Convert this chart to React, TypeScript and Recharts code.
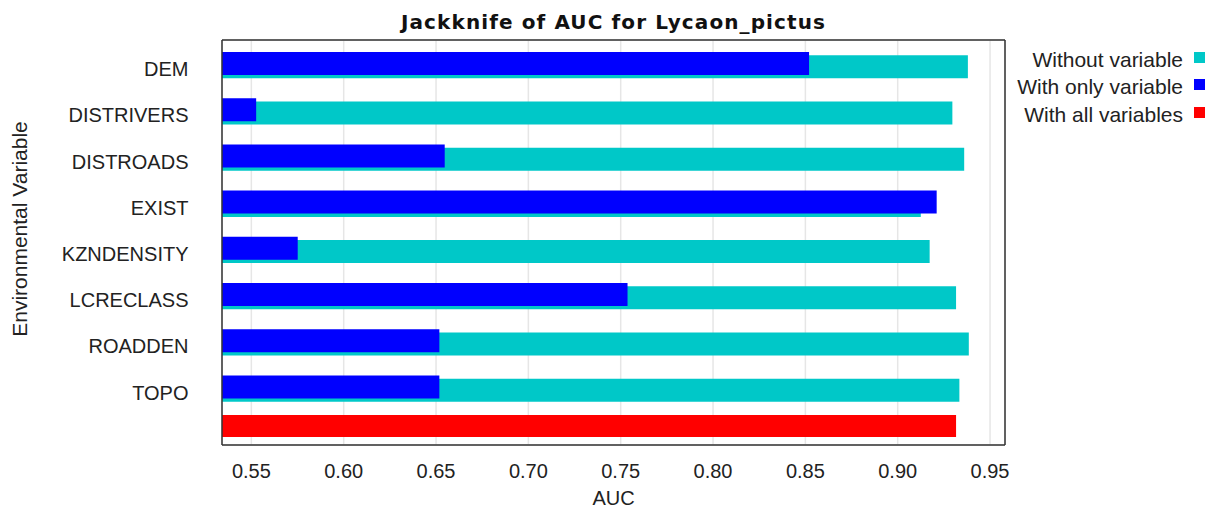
import React from 'react';
import { BarChart, Bar, XAxis, YAxis, CartesianGrid, Legend } from 'recharts';

const VARIABLES = ['DEM', 'DISTRIVERS', 'DISTROADS', 'EXIST', 'KZNDENSITY', 'LCRECLASS', 'ROADDEN', 'TOPO'];
const WITHOUT_VARIABLE = [0.938, 0.9296, 0.936, 0.9125, 0.9173, 0.9316, 0.9385, 0.9334];
const WITH_ONLY_VARIABLE = [0.852, 0.5526, 0.6547, 0.9211, 0.5751, 0.7537, 0.6518, 0.6518];
const WITH_ALL_VARIABLES = 0.9316;
const AUC_TICKS = [0.55, 0.6, 0.65, 0.7, 0.75, 0.8, 0.85, 0.9, 0.95];
const AUC_DOMAIN = [0.5341, 0.9581];

const COLORS = {
  without: '#00c8c8',
  withOnly: '#0000ff',
  all: '#ff0000',
};

const LEGEND = [
  { label: 'Without variable', color: COLORS.without },
  { label: 'With only variable', color: COLORS.withOnly },
  { label: 'With all variables', color: COLORS.all },
];

const FONT = '"Liberation Sans", Arial, sans-serif';
const AXIS_STROKE = '#333';

const data = [
  ...VARIABLES.map((name, i) => ({
    name,
    without: WITHOUT_VARIABLE[i],
    withOnly: WITH_ONLY_VARIABLE[i],
  })),
  { name: 'All variables', all: WITH_ALL_VARIABLES },
];

const JackknifeLegend = () => (
  <div style={{ display: 'flex', flexDirection: 'column', alignItems: 'flex-end', fontFamily: FONT, fontSize: 21, color: '#222' }}>
    {LEGEND.map((item) => (
      <div key={item.label} style={{ display: 'flex', alignItems: 'center', height: 27.5, lineHeight: '27.5px' }}>
        <span>{item.label}</span>
        <span style={{ display: 'inline-block', width: 11, height: 11, background: item.color, marginLeft: 11, marginTop: -4 }} />
      </div>
    ))}
  </div>
);

export default function App() {
  const tickStyle = { fontSize: 20, fill: '#222', fontFamily: FONT };

  return (
    <div style={{ position: 'absolute', left: 0, top: 0, width: 1215, height: 510, background: '#fff', fontFamily: FONT }}>
      <BarChart
        width={1215}
        height={510}
        data={data}
        layout="vertical"
        margin={{ top: 40, right: 10, bottom: 0, left: 12 }}
      >
        <CartesianGrid xAxisId="x" yAxisId="grid" stroke="#e6e6e6" strokeWidth={1.5} />

        {/* value axis with labels */}
        <XAxis
          xAxisId="x"
          type="number"
          domain={AUC_DOMAIN}
          ticks={AUC_TICKS}
          allowDataOverflow
          height={65}
          tickFormatter={(v) => v.toFixed(2)}
          tick={tickStyle}
          tickLine={false}
          tickSize={0}
          tickMargin={18.5}
          axisLine={{ stroke: AXIS_STROKE, strokeWidth: 1.5 }}
          label={{ value: 'AUC', position: 'insideBottom', offset: 5, fontSize: 20, fill: '#222', fontFamily: FONT }}
        />
        {/* inward tick marks, bottom and top */}
        <XAxis
          xAxisId="xb"
          type="number"
          domain={AUC_DOMAIN}
          ticks={AUC_TICKS}
          allowDataOverflow
          mirror
          height={1}
          tick={false}
          tickSize={8}
          tickLine={{ stroke: AXIS_STROKE, strokeWidth: 1.5 }}
          axisLine={false}
        />
        <XAxis
          xAxisId="xt"
          orientation="top"
          type="number"
          domain={AUC_DOMAIN}
          ticks={AUC_TICKS}
          allowDataOverflow
          mirror
          height={1}
          tick={false}
          tickSize={7}
          tickLine={{ stroke: AXIS_STROKE, strokeWidth: 1.5 }}
          axisLine={{ stroke: AXIS_STROKE, strokeWidth: 1.5 }}
          label={{
            value: 'Jackknife of AUC for Lycaon_pictus',
            position: 'top',
            offset: 11,
            fontSize: 20,
            fill: '#111',
            style: { fontFamily: '"DejaVu Sans", sans-serif', fontWeight: 'bold', letterSpacing: 1.1 },
          }}
        />

        {/* category labels */}
        <YAxis
          yAxisId="labels"
          type="category"
          dataKey="name"
          ticks={VARIABLES}
          interval={0}
          width={210}
          padding={{ top: 5.9, bottom: -16.7 }}
          tick={tickStyle}
          tickLine={false}
          tickSize={0}
          tickMargin={33.5}
          axisLine={{ stroke: AXIS_STROKE, strokeWidth: 1.5 }}
          label={{
            value: 'Environmental Variable',
            angle: -90,
            position: 'insideLeft',
            offset: 8,
            dy: -13.5,
            fontSize: 21,
            fill: '#222',
            fontFamily: FONT,
            style: { textAnchor: 'middle' },
          }}
        />
        {/* grid rows and right tick marks */}
        <YAxis
          yAxisId="grid"
          orientation="right"
          type="category"
          dataKey="name"
          ticks={VARIABLES}
          interval={0}
          mirror
          width={1}
          padding={{ top: -3.8, bottom: -7 }}
          tick={false}
          tickSize={6}
          tickLine={{ stroke: AXIS_STROKE, strokeWidth: 1.5 }}
          axisLine={{ stroke: AXIS_STROKE, strokeWidth: 1.5 }}
        />
        {/* hidden axes that place the overlapping bars */}
        <YAxis yAxisId="cyan" type="category" dataKey="name" hide width={0} padding={{ top: 3.3, bottom: -14.1 }} />
        <YAxis yAxisId="blue" type="category" dataKey="name" hide width={0} padding={{ top: 0, bottom: -10.8 }} />
        <YAxis yAxisId="all" type="category" dataKey="name" hide width={0} padding={{ top: -6.7, bottom: -4.1 }} />

        <Legend
          layout="vertical"
          align="right"
          verticalAlign="top"
          wrapperStyle={{ width: 200, top: 45.5, right: 10 }}
          content={() => <JackknifeLegend />}
        />

        <Bar dataKey="without" name="Without variable" xAxisId="x" yAxisId="cyan" fill={COLORS.without} barSize={23} isAnimationActive={false} />
        <Bar dataKey="withOnly" name="With only variable" xAxisId="x" yAxisId="blue" fill={COLORS.withOnly} barSize={23} isAnimationActive={false} />
        <Bar dataKey="all" name="With all variables" xAxisId="x" yAxisId="all" fill={COLORS.all} barSize={22} isAnimationActive={false} />
      </BarChart>
    </div>
  );
}
